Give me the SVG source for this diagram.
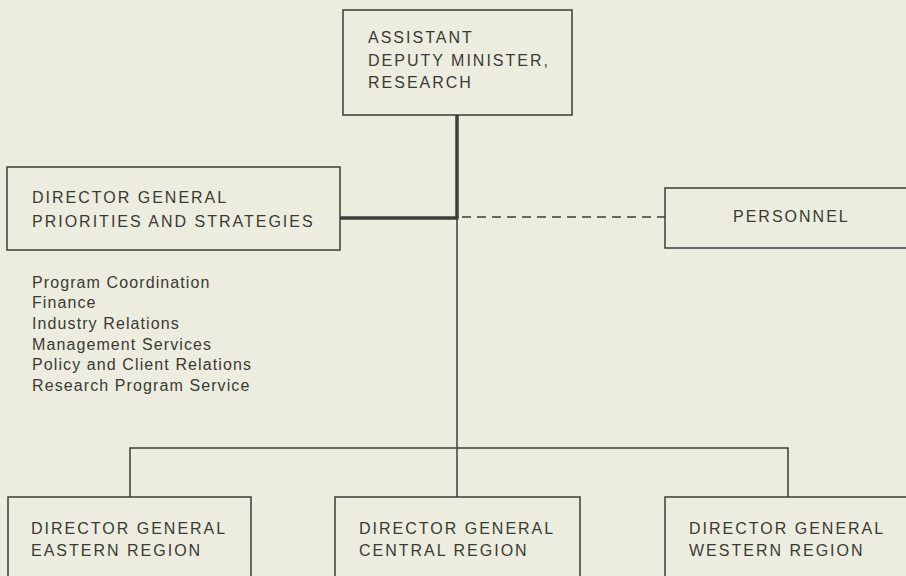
<svg xmlns="http://www.w3.org/2000/svg" width="906" height="576" viewBox="0 0 906 576">
  <style>
    .box { fill: none; stroke: #3d3d38; stroke-width: 1.5; }
    .t { font-family: "Liberation Sans", Arial, sans-serif; font-size: 16px; fill: #3a3a35; letter-spacing: 2px; }
    .l { font-family: "Liberation Sans", Arial, sans-serif; font-size: 16px; fill: #3a3a35; letter-spacing: 1.1px; }
    .thin { stroke: #3d3d38; stroke-width: 1.5; fill: none; }
    .thick { stroke: #3d3d38; stroke-width: 3.5; fill: none; }
    .dash { stroke: #3d3d38; stroke-width: 1.5; stroke-dasharray: 9 6; fill: none; }
  </style>
  <rect x="0" y="0" width="906" height="576" fill="#ecedde"/>

  <g id="connectors">
    <line class="thick" x1="457" y1="115" x2="457" y2="218"/>
    <line class="thick" x1="340" y1="218" x2="458.5" y2="218"/>
    <line class="thin" x1="457" y1="218" x2="457" y2="497"/>
    <line class="dash" x1="462" y1="217" x2="665" y2="217"/>
    <polyline class="thin" points="130,497 130,448 788,448 788,497"/>
  </g>

  <g id="adm">
    <rect class="box" x="343" y="10" width="229" height="105"/>
    <text class="t" x="368" y="43" letter-spacing="1.8">ASSISTANT</text>
    <text class="t" x="368" y="66" letter-spacing="1.8">DEPUTY MINISTER,</text>
    <text class="t" x="368" y="88" letter-spacing="1.8">RESEARCH</text>
  </g>

  <g id="dg-priorities">
    <rect class="box" x="7" y="167" width="333" height="83"/>
    <text class="t" x="32" y="203">DIRECTOR GENERAL</text>
    <text class="t" x="32" y="227">PRIORITIES AND STRATEGIES</text>
  </g>

  <g id="priorities-list">
    <text class="l" x="32" y="288">Program Coordination</text>
    <text class="l" x="32" y="308">Finance</text>
    <text class="l" x="32" y="329">Industry Relations</text>
    <text class="l" x="32" y="350">Management Services</text>
    <text class="l" x="32" y="370">Policy and Client Relations</text>
    <text class="l" x="32" y="391">Research Program Service</text>
  </g>

  <g id="personnel">
    <rect class="box" x="665" y="188" width="260" height="60"/>
    <text class="t" x="733" y="222" letter-spacing="1.5">PERSONNEL</text>
  </g>

  <g id="dg-eastern">
    <rect class="box" x="8" y="497" width="243" height="100"/>
    <text class="t" x="31" y="534">DIRECTOR GENERAL</text>
    <text class="t" x="31" y="556">EASTERN REGION</text>
  </g>

  <g id="dg-central">
    <rect class="box" x="335" y="497" width="245" height="100"/>
    <text class="t" x="359" y="534">DIRECTOR GENERAL</text>
    <text class="t" x="359" y="556">CENTRAL REGION</text>
  </g>

  <g id="dg-western">
    <rect class="box" x="665" y="497" width="260" height="100"/>
    <text class="t" x="689" y="534">DIRECTOR GENERAL</text>
    <text class="t" x="689" y="556">WESTERN REGION</text>
  </g>
</svg>
